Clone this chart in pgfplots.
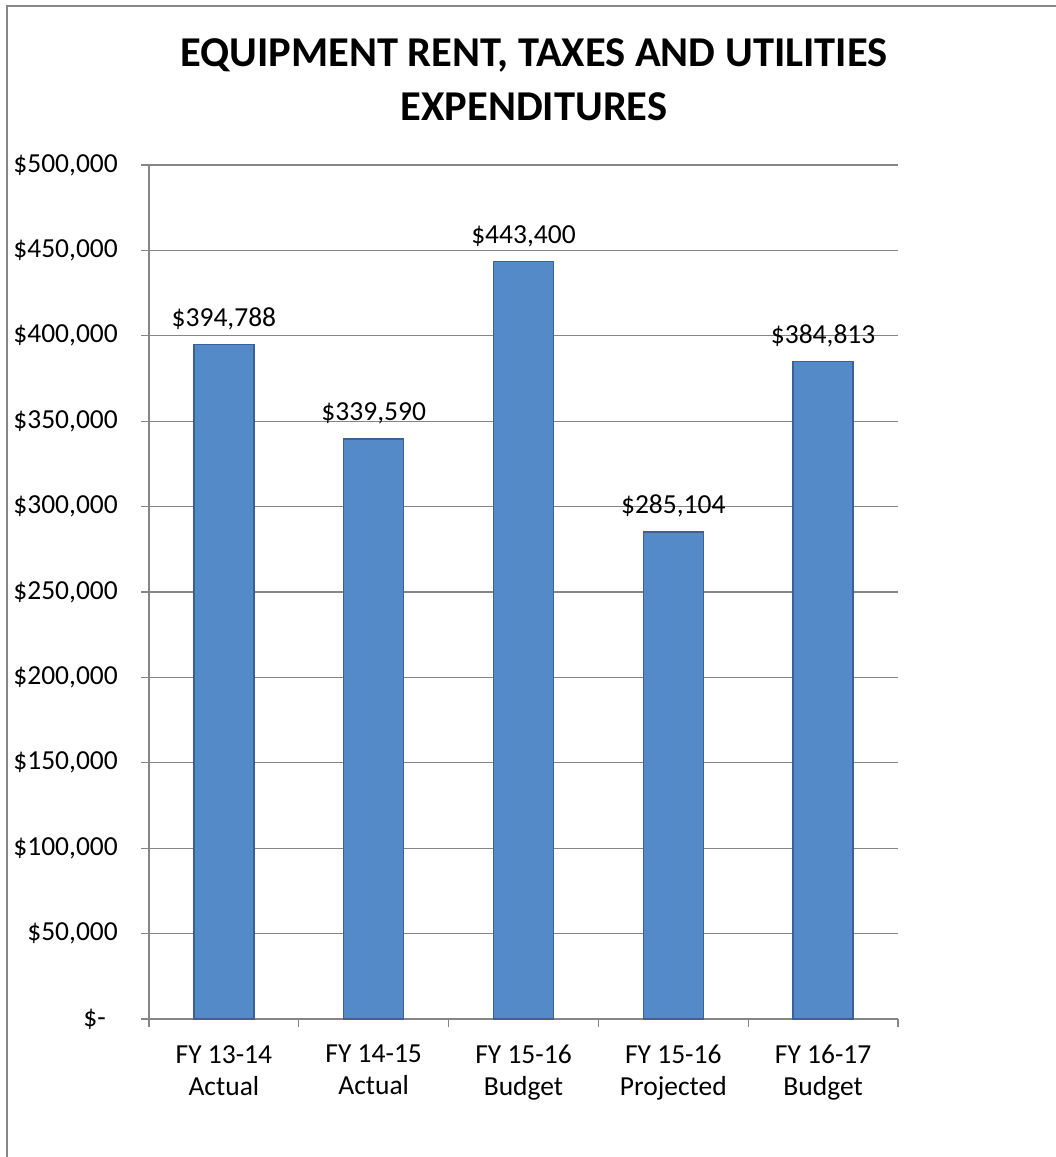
\documentclass[border=0pt]{standalone}
\usepackage{pgfplots}
\pgfplotsset{compat=1.18}
\usepackage{fontspec}
\setmainfont{Carlito}
\definecolor{barfill}{RGB}{84,138,200}
\definecolor{baredge}{RGB}{58,98,152}
\definecolor{gridgray}{RGB}{134,134,134}
\begin{document}
\begin{tikzpicture}[x=1pt,y=1pt]
\useasboundingbox (0,0) rectangle (1056,1157);
\draw[gridgray, line width=1.5pt] (7,0) -- (7,1151) -- (1056,1151);
\node[font=\fontsize{42.5}{50}\selectfont\bfseries, anchor=base, inner sep=0pt] at (534,1090) {EQUIPMENT RENT, TAXES AND UTILITIES};
\node[font=\fontsize{42.5}{50}\selectfont\bfseries, anchor=base, inner sep=0pt] at (534,1036) {EXPENDITURES};
\begin{axis}[
  at={(149pt,138pt)}, anchor=south west,
  scale only axis, width=749pt, height=854pt,
  xmin=-0.5, xmax=4.5, ymin=0, ymax=500000,
  scaled y ticks=false,
  axis x line=bottom, axis y line=left,
  axis line style={-, gridgray, line width=1.2pt},
  ytick={0,50000,100000,150000,200000,250000,300000,350000,400000,450000,500000},
  yticklabels={{\$-\kern12pt\relax},{\$50,000},{\$100,000},{\$150,000},{\$200,000},{\$250,000},{\$300,000},{\$350,000},{\$400,000},{\$450,000},{\$500,000}},
  ymajorgrids, grid style={gridgray, line width=1.2pt},
  xtick={-0.5,0.5,1.5,2.5,3.5,4.5}, xticklabels={},
  extra x ticks={0,1,2,3,4},
  extra x tick labels={{FY 13-14\\Actual},{FY 14-15\\Actual},{FY 15-16\\Budget},{FY 15-16\\Projected},{FY 16-17\\Budget}},
  extra x tick style={major tick length=0pt, grid=none},
  tick align=outside, major tick length=8pt,
  tick style={gridgray, line width=1.2pt},
  ticklabel style={font=\fontsize{27.5}{32}\selectfont},
  yticklabel style={anchor=east, inner sep=0pt, xshift=-23pt},
  xticklabel style={align=center, anchor=north, inner sep=0pt, yshift=-26pt},
  ybar, bar width=60pt,
  nodes near coords, point meta=explicit symbolic,
  every node near coord/.append style={font=\fontsize{27.5}{32}\selectfont, black, inner sep=0pt, yshift=14pt},
  clip=false,
]
\addplot[fill=barfill, draw=baredge, line width=1.5pt] coordinates {
  (0,394788) [\$394,788]
  (1,339590) [\$339,590]
  (2,443400) [\$443,400]
  (3,285104) [\$285,104]
  (4,384813) [\$384,813]
};
\end{axis}
\end{tikzpicture}
\end{document}
